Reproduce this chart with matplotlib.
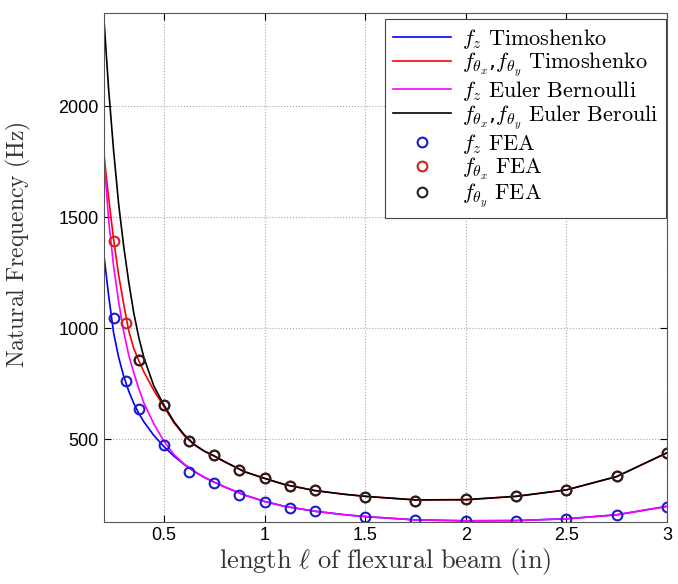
import numpy as np
import matplotlib
matplotlib.use('Agg')
import matplotlib.pyplot as plt

plt.rcParams['mathtext.fontset'] = 'cm'

# beam length (in) used for the analytic curves
L = [0.2, 0.225, 0.25, 0.275, 0.3, 0.325, 0.35, 0.375, 0.4, 0.45, 0.5, 0.55, 0.6, 0.65,
     0.7, 0.75, 0.8, 0.9, 1.0, 1.1, 1.25, 1.4, 1.5, 1.75, 2.0, 2.25, 2.5, 2.75, 3.0]

fz_timo = [1345, 1150, 980, 870, 785, 718, 663, 618, 580, 518, 468, 425, 388, 356,
           330, 308, 287, 250, 221, 199, 177, 161, 153, 138, 134, 135, 143, 161, 199]
ftheta_timo = [1800, 1590, 1400, 1240, 1110, 990, 910, 855, 805, 720, 648, 575, 518, 476,
               447, 425, 400, 355, 325, 297, 270, 253, 244, 228, 229, 244, 273, 333, 440]
fz_euler = [1800, 1490, 1280, 1120, 985, 880, 800, 730, 665, 570, 492, 432, 390, 357,
            330, 308, 287, 250, 221, 199, 177, 161, 153, 138, 134, 135, 143, 161, 199]
ftheta_euler = [2420, 2080, 1800, 1560, 1370, 1210, 1070, 960, 870, 740, 655, 580, 522, 478,
                448, 426, 401, 355, 325, 297, 270, 253, 244, 228, 229, 244, 273, 333, 440]

# FEA results
L_fea = [0.25, 0.3125, 0.375, 0.5, 0.625, 0.75, 0.875, 1.0, 1.125, 1.25,
         1.5, 1.75, 2.0, 2.25, 2.5, 2.75, 3.0]
fz_fea = [1046, 762, 635, 473, 353, 302, 250, 218, 193, 176,
          152, 136, 134, 134, 141, 159, 198]
fthx_fea = [1395, 1024, 856, 653, 492, 431, 362, 326, 291, 271,
            243, 223, 231, 245, 274, 335, 440]
L_fea_y = L_fea[2:]
fthy_fea = fthx_fea[2:]

fig = plt.figure(figsize=(6.78, 5.84), dpi=100)
ax = fig.add_axes([0.1527, 0.1067, 0.8311, 0.8716])

ax.plot(L, fz_timo, color='#0000ff', lw=1.2, label=r'$f_z\ \mathrm{Timoshenko}$')
ax.plot(L, ftheta_timo, color='#ff0000', lw=1.2,
        label=r'$f_{\theta_x}$,$f_{\theta_y}\ \mathrm{Timoshenko}$')
ax.plot(L, fz_euler, color='#ff00ff', lw=1.2, label=r'$f_z\ \mathrm{Euler\ Bernoulli}$')
ax.plot(L, ftheta_euler, color='black', lw=1.2,
        label=r'$f_{\theta_x}$,$f_{\theta_y}\ \mathrm{Euler\ Berouli}$')

mk = dict(ls='none', marker='o', ms=7, mew=1.5, mfc='none')
ax.plot(L_fea, fz_fea, mec='#1a1ad0', label=r'$f_z\ \mathrm{FEA}$', **mk)
ax.plot(L_fea, fthx_fea, mec='#d02020', label=r'$f_{\theta_x}\ \mathrm{FEA}$', **mk)
ax.plot(L_fea_y, fthy_fea, mec='#222222', label=r'$f_{\theta_y}\ \mathrm{FEA}$', **mk)

ax.set_xlim(0.2, 3.0)
ax.set_ylim(130, 2420)
ax.set_xticks([0.5, 1, 1.5, 2, 2.5, 3])
ax.set_xticklabels(['0.5', '1', '1.5', '2', '2.5', '3'])
ax.set_yticks([500, 1000, 1500, 2000])
ax.tick_params(direction='in', top=True, right=True, length=5, labelsize=13)
for t in ax.get_xticklabels() + ax.get_yticklabels():
    t.set_family('Liberation Sans')
ax.grid(True, ls=':', color='#a8a8a8', lw=0.8)
for s in ax.spines.values():
    s.set_color('#555555')

ax.set_xlabel(r'$\mathrm{length}\ \ell\ \mathrm{of\ flexural\ beam\ (in)}$', fontsize=19,
              color='#333333', labelpad=2)
ax.set_ylabel(r'$\mathrm{Natural\ Frequency\ (Hz)}$', fontsize=17, color='#333333')
ax.yaxis.set_label_coords(-0.125, 0.545)

leg = ax.legend(loc='upper right', bbox_to_anchor=(1.0, 0.99), fontsize=16,
                handlelength=2.6, handletextpad=0.5, labelspacing=0.0,
                borderaxespad=0.05, borderpad=0.35, fancybox=False,
                framealpha=1, edgecolor='#444444')
leg.get_frame().set_linewidth(0.8)

fig.savefig('out.png', dpi=100)
